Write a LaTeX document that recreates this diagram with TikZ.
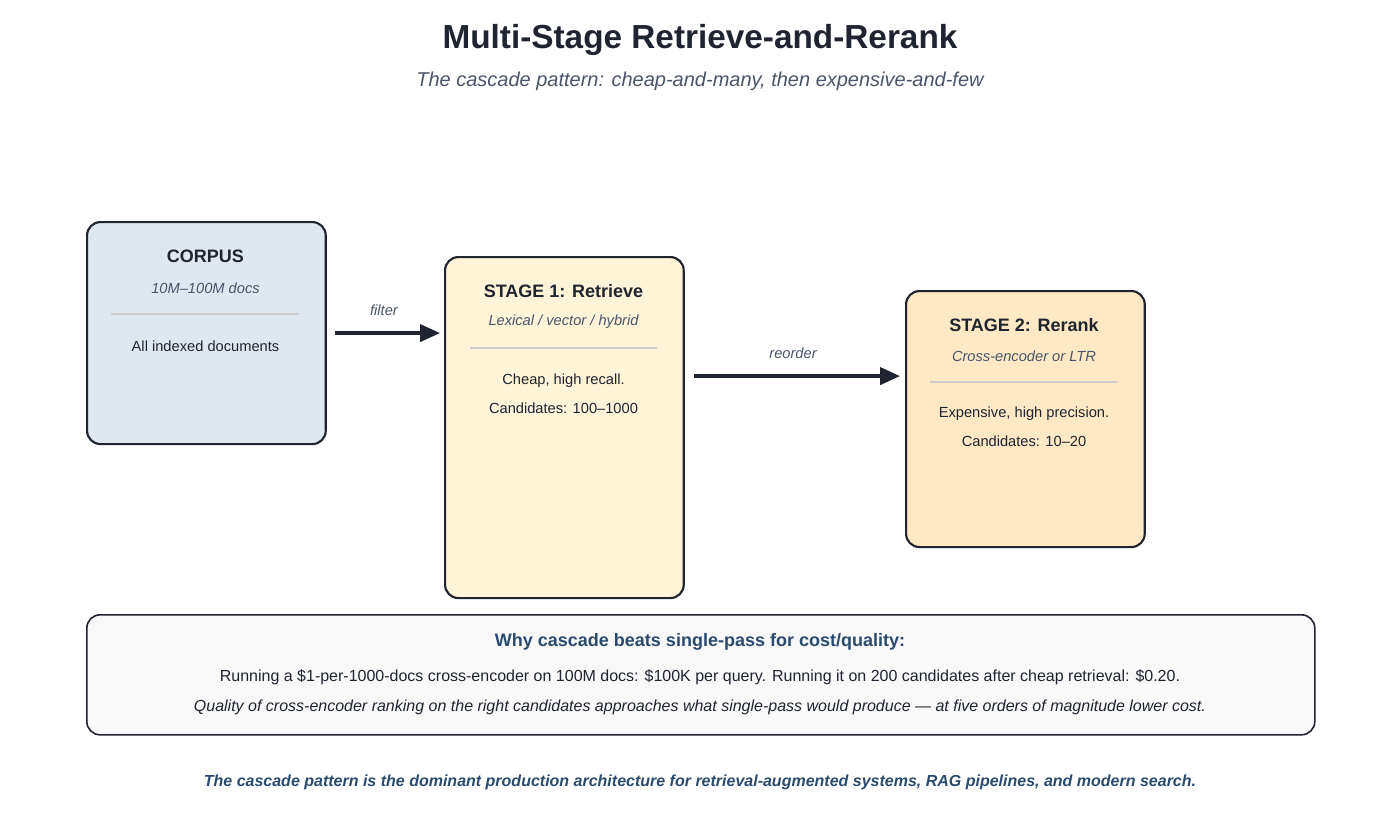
\documentclass[tikz,border=0pt]{standalone}
\usepackage{fontspec}
\setmainfont{Liberation Sans}
\usetikzlibrary{calc,arrows.meta}
\definecolor{ink}{HTML}{1F2430}
\definecolor{sub}{HTML}{4A5568}
\definecolor{navy}{HTML}{2C4A6E}
\definecolor{cfill}{HTML}{DFE8F0}
\definecolor{afill}{HTML}{FFF4D8}
\definecolor{bfill}{HTML}{FFE8C4}
\definecolor{wfill}{HTML}{F8F8F8}
\newcommand{\fs}[1]{\fontsize{#1}{#1}\selectfont}
\tikzset{
  card/.style={draw=ink,line width=1.6pt,rounded corners=10pt,minimum width=179pt,anchor=north west,inner sep=0pt},
  ttl/.style={font=\fs{13.5}\bfseries,text=ink},
  it/.style={font=\fs{11}\itshape,text=sub},
  bt/.style={font=\fs{11},text=ink},
  sep/.style={draw=black!20,line width=1.2pt},
  flow/.style={draw=ink,line width=2.4pt,-{Triangle[length=15pt,width=13pt]}},
  lab/.style={font=\fs{11}\itshape,text=sub}
}
\begin{document}
\begin{tikzpicture}[x=0.75pt,y=-0.75pt]
\useasboundingbox (0,0) rectangle (1400,819);
\node[font=\fs{25}\bfseries,text=ink] (title) at (700,40) {Multi-Stage Retrieve-and-Rerank};
\node[font=\fs{15}\itshape,text=sub] (subt) at (700,81) {The cascade pattern: cheap-and-many, then expensive-and-few};

\node[card,fill=cfill,minimum height=166.5pt] (corpus) at (86,221) {};
\node[ttl] (c1) at (205.5,256) {CORPUS};
\node[it] (c2) at (205.5,288) {10M–100M docs};
\draw[sep] (111,314) -- (299,314);
\node[bt] (c3) at (205.5,346) {All indexed documents};

\node[card,fill=afill,minimum height=255.75pt] (s1) at (444,256) {};
\node[ttl] (a1) at (563.5,291) {STAGE 1: Retrieve};
\node[it] (a2) at (563.5,322) {Lexical / vector / hybrid};
\draw[sep] (470,348) -- (657,348);
\node[bt] (a3) at (563.5,381) {Cheap, high recall.};
\node[bt] (a4) at (563.5,408) {Candidates: 100–1000};

\node[card,fill=bfill,minimum height=192pt] (s2) at (905,290) {};
\node[ttl] (b1) at (1024,325) {STAGE 2: Rerank};
\node[it] (b2) at (1024,356) {Cross-encoder or LTR};
\draw[sep] (930,382) -- (1117,382);
\node[bt] (b3) at (1024,414) {Expensive, high precision.};
\node[bt] (b4) at (1024,441) {Candidates: 10–20};

\coordinate (f1) at ($(corpus.east)+(8,0)$);
\coordinate (f2) at ($(s1.west|-f1)+(-4,0)$);
\draw[flow] (f1) -- (f2);
\node[lab] (fl) at (384,310) {filter};
\coordinate (r1) at ($(s1.east)+(9,-51.5)$);
\coordinate (r2) at ($(s2.west|-r1)+(-5,0)$);
\draw[flow] (r1) -- (r2);
\node[lab] (rl) at (793,353) {reorder};

\node[card,fill=wfill,line width=1.2pt,minimum width=921pt,minimum height=90pt] (why) at (86,614) {};
\node[font=\fs{13.5}\bfseries,text=navy] (w1) at (700,642) {Why cascade beats single-pass for cost/quality:};
\node[font=\fs{12},text=ink] (w2) at (700,677) {Running a \$1-per-1000-docs cross-encoder on 100M docs: \$100K per query. Running it on 200 candidates after cheap retrieval: \$0.20.};
\node[font=\fs{12}\itshape,text=ink] (w3) at (700,707) {Quality of cross-encoder ranking on the right candidates approaches what single-pass would produce — at five orders of magnitude lower cost.};

\node[font=\fs{12}\bfseries\itshape,text=navy] (foot) at (700,782) {The cascade pattern is the dominant production architecture for retrieval-augmented systems, RAG pipelines, and modern search.};
\end{tikzpicture}
\end{document}
